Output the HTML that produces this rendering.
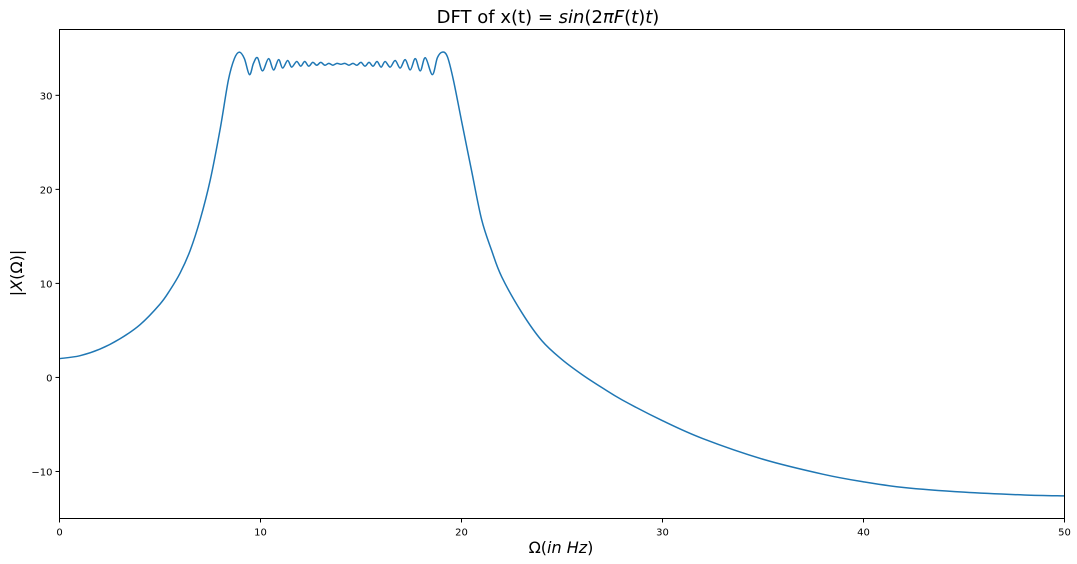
<!DOCTYPE html>
<html><head><meta charset="utf-8"><style>
html,body{margin:0;padding:0;background:#fff;}
svg{display:block;font-family:"DejaVu Sans","Liberation Sans",sans-serif;}
</style></head><body>
<svg id="chart" width="1077" height="564">
<text x="548" y="23" font-size="18" text-anchor="middle">DFT of x(t) = <tspan font-style="italic">sin</tspan>(2<tspan font-style="italic">πF</tspan>(<tspan font-style="italic">t</tspan>)<tspan font-style="italic">t</tspan>)</text>
<text x="561" y="553" font-size="16" text-anchor="middle">Ω(<tspan font-style="italic">in Hz</tspan>)</text>
<text transform="translate(22,273) rotate(-90)" font-size="16" text-anchor="middle">|<tspan font-style="italic">X</tspan>(Ω)|</text>
<g id="ticks"></g>
<path id="line" fill="none" stroke="#1f77b4" stroke-width="1.5"/>
<rect x="59.5" y="29.5" width="1005" height="489" fill="none" stroke="#000" stroke-width="1"/>
</svg>
<script>
const xTicks=[0,10,20,30,40,50];
const yTicks=[-10,0,10,20,30];
const freq=[0,1,2,3,4,5,5.5,6,6.5,7,7.5,8,8.4,8.7,8.95,9.2,9.45,9.65,9.85,10.1,10.4,10.65,10.9,11.1,11.35,11.55,11.8,12.0,12.2,12.4,12.6,12.8,13.0,13.2,13.4,13.6,13.8,14.0,14.2,14.4,14.6,14.8,15.0,15.2,15.4,15.6,15.8,16.0,16.2,16.45,16.7,16.95,17.2,17.45,17.7,17.95,18.2,18.55,18.8,19.05,19.3,19.6,20,20.5,21,21.5,22,23,24,25,26,27,28,30,32,35,38,40,42,45,48,50];
const mag=[2.0,2.3,3.0,4.1,5.6,7.8,9.3,11.1,13.5,16.8,21,26.5,31.6,33.9,34.6,33.9,32.2,33.4,34.0,32.6,33.9,32.7,33.8,32.9,33.7,33.0,33.6,33.1,33.6,33.1,33.5,33.2,33.5,33.2,33.4,33.2,33.4,33.3,33.4,33.2,33.4,33.2,33.5,33.1,33.5,33.1,33.6,33.0,33.6,33.0,33.7,32.9,33.8,32.7,33.9,32.6,34.0,32.2,34.0,34.6,34.1,31.6,27.3,22,16.8,13.5,10.7,6.9,3.9,1.9,0.3,-1.1,-2.4,-4.6,-6.5,-8.7,-10.3,-11.1,-11.7,-12.2,-12.5,-12.6];
const X0=59.5,X1=1064.5,Y0=518.5,Y1=29.5,xmin=0,xmax=50,ymin=-15.0,ymax=37.0;
const sx=v=>X0+(v-xmin)/(xmax-xmin)*(X1-X0);
const sy=v=>Y0-(v-ymin)/(ymax-ymin)*(Y0-Y1);
const NS='http://www.w3.org/2000/svg';
const g=document.getElementById('ticks');
xTicks.forEach(t=>{
 const l=document.createElementNS(NS,'line');
 l.setAttribute('x1',sx(t));l.setAttribute('x2',sx(t));l.setAttribute('y1',Y0);l.setAttribute('y2',Y0+4);l.setAttribute('stroke','#000');
 
 
 g.appendChild(l);
 const tx=document.createElementNS(NS,'text');
 tx.setAttribute('x',sx(t));tx.setAttribute('y',Y0+17);tx.setAttribute('font-size','10');tx.setAttribute('text-anchor','middle');tx.textContent=t;
 
 
 g.appendChild(tx);
});
yTicks.forEach(t=>{
 const l=document.createElementNS(NS,'line');
 l.setAttribute('x1',X0-4);l.setAttribute('x2',X0);l.setAttribute('y1',sy(t));l.setAttribute('y2',sy(t));l.setAttribute('stroke','#000');
 
 
 g.appendChild(l);
 const tx=document.createElementNS(NS,'text');
 tx.setAttribute('x',X0-7);tx.setAttribute('y',sy(t)+4);tx.setAttribute('font-size','10');tx.setAttribute('text-anchor','end');tx.textContent=t<0?'\u2212'+(-t):t;
 
 
 g.appendChild(tx);
});
const P=freq.map((f,i)=>[sx(f),sy(mag[i])]);
let d='M'+P[0][0]+','+P[0][1];
for(let i=0;i<P.length-1;i++){
 const p0=P[Math.max(i-1,0)],p1=P[i],p2=P[i+1],p3=P[Math.min(i+2,P.length-1)];
 const c1=[p1[0]+(p2[0]-p0[0])/6,p1[1]+(p2[1]-p0[1])/6];
 const c2=[p2[0]-(p3[0]-p1[0])/6,p2[1]-(p3[1]-p1[1])/6];
 d+=' C'+c1[0]+','+c1[1]+' '+c2[0]+','+c2[1]+' '+p2[0]+','+p2[1];
}
document.getElementById('line').setAttribute('d',d);
</script>
</body></html>
